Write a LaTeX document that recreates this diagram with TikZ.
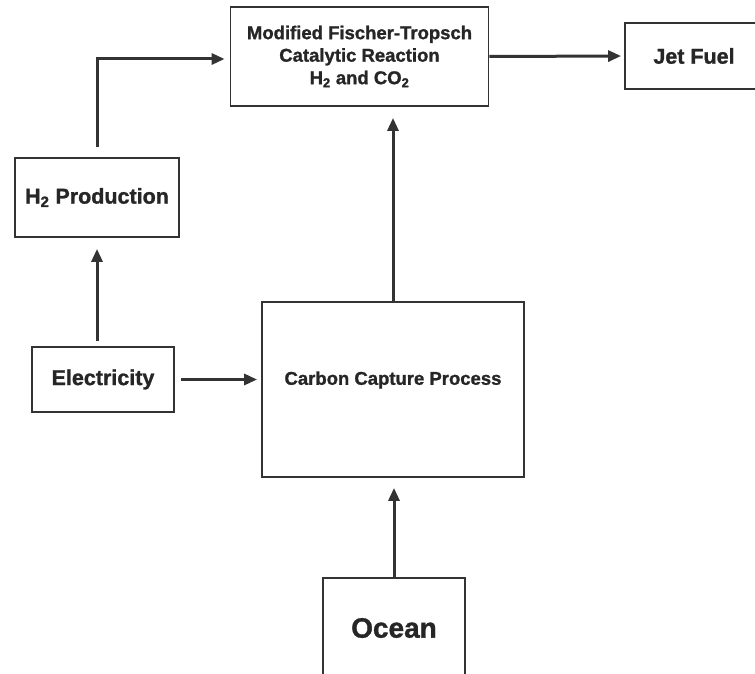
\documentclass[tikz,border=0pt]{standalone}
\usepackage{fontspec}
\setmainfont{Liberation Sans}[BoldFeatures={FakeBold=1.2}]
\usetikzlibrary{arrows.meta}
\begin{document}
\begin{tikzpicture}[x=1pt,y=-1pt,
  box/.style={draw=black!80, line width=1.8pt, rectangle, inner sep=0pt, text=black!85},
  arr/.style={draw=black!80, line width=3pt, -{Triangle[length=13pt,width=11pt]}},
  smalltxt/.style={font=\fontsize{18.5}{22.5}\bfseries\selectfont},
  bigtxt/.style={font=\fontsize{21.5}{24}\bfseries\selectfont}]
\useasboundingbox (0,0) rectangle (755,674);
\clip (0,0) rectangle (755,674);
\fill[white] (0,0) rectangle (755,674);

\node[box, smalltxt, align=center, minimum width=258pt, minimum height=99pt] (ft) at (359.5,56.5)
  {Modified Fischer-Tropsch\\Catalytic Reaction\\H\textsubscript{2} and CO\textsubscript{2}};
\node[box, bigtxt, minimum width=138pt, minimum height=66pt] (jet) at (694,56) {Jet Fuel};
\node[box, bigtxt, minimum width=164pt, minimum height=79pt] (h2) at (97,197.5) {H\textsubscript{2} Production};
\node[box, bigtxt, minimum width=142pt, minimum height=65pt] (elec) at (103,379.5) {Electricity};
\node[box, minimum width=262pt, minimum height=175pt] (cc) at (393,389.5) {};
\node[smalltxt, text=black!85] (cctext) at (393,380) {Carbon Capture Process};
\node[box, font=\fontsize{28}{30}\bfseries\selectfont, minimum width=142pt, minimum height=100pt] (ocean) at (394,628) {Ocean};

\draw[arr] ([yshift=10pt]h2.north) |- ([xshift=-5pt,yshift=-2.5pt]ft.west);
\draw[arr] ([yshift=5pt]elec.north -| h2.south) -- ([yshift=-11pt]h2.south);
\draw[arr] ([xshift=6pt]elec.east) -- ([xshift=-4pt]cc.west |- elec.east);
\draw[arr, shorten >=11pt] (cc.north) -- (cc.north |- ft.south);
\draw[arr, shorten >=10pt] (ocean.north) -- (ocean.north |- cc.south);
\draw[arr, shorten >=3pt] (ft.east) -- (jet.west);
\end{tikzpicture}
\end{document}
